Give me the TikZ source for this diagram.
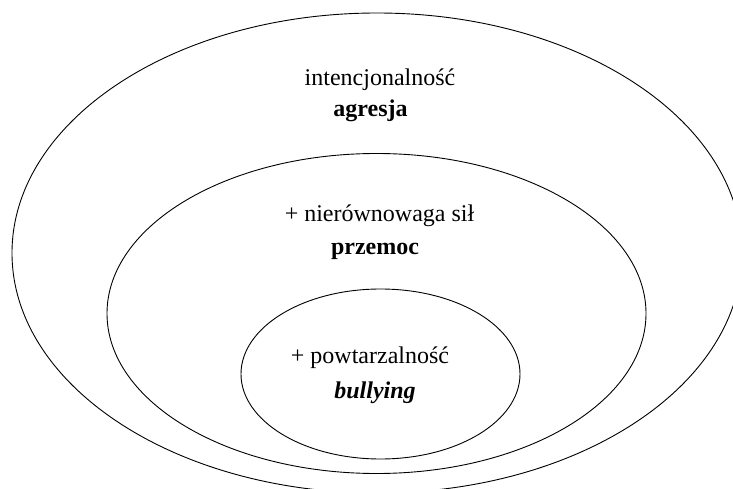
\documentclass[tikz,border=0pt]{standalone}
\usepackage{fontspec}
\setmainfont{Liberation Serif}
\usetikzlibrary{shapes.geometric}

\begin{document}
\begin{tikzpicture}[x=1pt, y=-1pt,
    ring/.style={draw, ellipse, line width=0.9pt, inner sep=0pt},
    word/.style={anchor=base, inner sep=0pt, font=\fontsize{24}{28}\selectfont}]
    \useasboundingbox (0,0) rectangle (733,489);
    \clip (0,0) rectangle (733,489);
    % the three nested rings
    \node[ring, minimum width=730pt, minimum height=480pt] (outerring) at (377,253) {};
    \node[ring, minimum width=539pt, minimum height=320pt] (middlering) at (376.5,313.5) {};
    \node[ring, minimum width=279pt, minimum height=170pt] (innerring) at (380.5,374) {};
    % labels
    \node[word] (intent) at (380,86) {intencjonalność};
    \node[word] (agresja) at (370.5,117) {\textbf{agresja}};
    \node[word] (imbalance) at (379.5,222) {+ nierównowaga sił};
    \node[word] (przemoc) at (375,254) {\textbf{przemoc}};
    \node[word] (repeat) at (370,363) {+ powtarzalność};
    \node[word] (bullying) at (375,398) {\textbf{\textit{bullying}}};
\end{tikzpicture}
\end{document}
